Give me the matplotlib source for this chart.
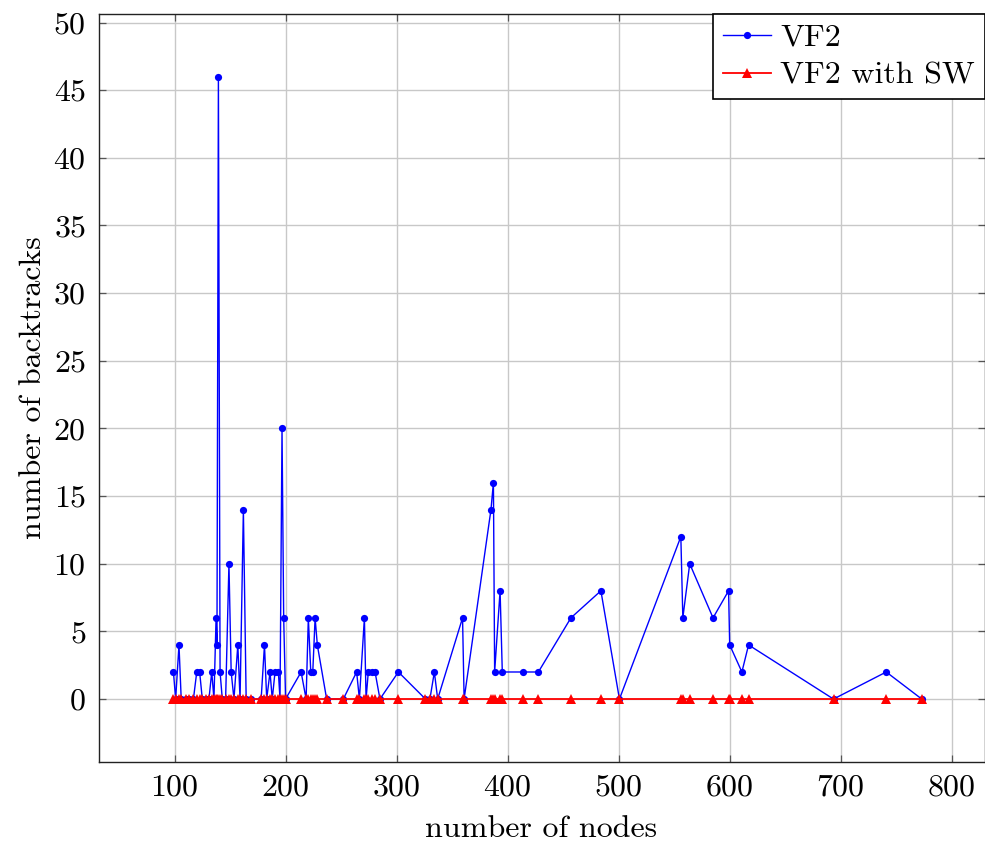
import matplotlib
matplotlib.use("Agg")
import matplotlib.pyplot as plt

nodes = [99, 101, 104, 106, 110, 113, 117, 120, 122.6, 125, 128, 131, 133.5, 135.5,
         137.4, 138.2, 139.5, 141, 143, 146, 149, 151, 153.5, 157, 159, 162, 164.5,
         169, 178, 181, 183, 186, 188, 190.5, 193.5, 195, 196.8, 198.3, 200, 214,
         218.5, 220.5, 222.7, 224.5, 226.6, 228.6, 237, 252, 264, 266.5, 271, 272.5,
         274.5, 277.5, 280.6, 285, 301.6, 326, 330, 334, 337, 359.4, 360.8, 385,
         387.2, 388.3, 393.2, 395.2, 414, 427.7, 457, 484, 500.7, 556, 557.8, 564,
         585, 599, 600, 611, 617, 693.5, 741, 773]
vf2 = [2, 0, 4, 0, 0, 0, 0, 2, 2, 0, 0, 0, 2, 0,
       6, 4, 46, 2, 0, 0, 10, 2, 0, 4, 0, 14, 0,
       0, 0, 4, 0, 2, 0, 2, 2, 0, 20, 6, 0, 2,
       0, 6, 2, 2, 6, 4, 0, 0, 2, 0, 6, 0,
       2, 2, 2, 0, 2, 0, 0, 2, 0, 6, 0, 14,
       16, 2, 8, 2, 2, 2, 6, 8, 0, 12, 6, 10,
       6, 8, 4, 2, 4, 0, 2, 0]
vf2_sw = [0] * len(nodes)

x_ticks = [100, 200, 300, 400, 500, 600, 700, 800]
y_ticks = [0, 5, 10, 15, 20, 25, 30, 35, 40, 45, 50]

plt.rcParams['font.family'] = ['cmr10', 'DejaVu Serif']
plt.rcParams['axes.formatter.use_mathtext'] = True
fs = 23

fig = plt.figure(figsize=(9.85, 8.43), dpi=100)
ax = fig.add_axes([98.6 / 985, 1 - 761.7 / 843, (984.5 - 98.6) / 985, (761.7 - 14) / 843])

ax.plot(nodes, vf2, color='blue', lw=1.0, marker='o', markersize=5.2,
        markeredgewidth=0, label='VF2', zorder=3)
ax.plot(nodes, vf2_sw, color='red', lw=1.3, marker='^', markersize=7.5,
        markeredgewidth=0, label='VF2 with SW', zorder=4)

ax.set_xlim(31.6, 829.5)
ax.set_ylim(-4.63, 50.63)
ax.set_xticks(x_ticks)
ax.set_yticks(y_ticks)
ax.grid(True, color='#c8c8c8', lw=1.0, zorder=0)
ax.set_axisbelow(True)
ax.tick_params(direction='in', length=5, width=0.9, labelsize=fs,
               top=True, right=True, color='#555555', pad=9)
for s in ax.spines.values():
    s.set_linewidth(1.0)
    s.set_color('#222222')

ax.set_xlabel('number of nodes', fontsize=fs, labelpad=10)
ax.set_ylabel('number of backtracks', fontsize=fs, labelpad=5)

leg = ax.legend(loc='upper right', fontsize=fs, frameon=True, fancybox=False,
                edgecolor='black', framealpha=1, borderaxespad=0.0,
                handlelength=1.5, handletextpad=0.3, borderpad=0.3,
                labelspacing=0.3)
leg.get_frame().set_linewidth(1.2)

fig.savefig('out.png', dpi=100)
